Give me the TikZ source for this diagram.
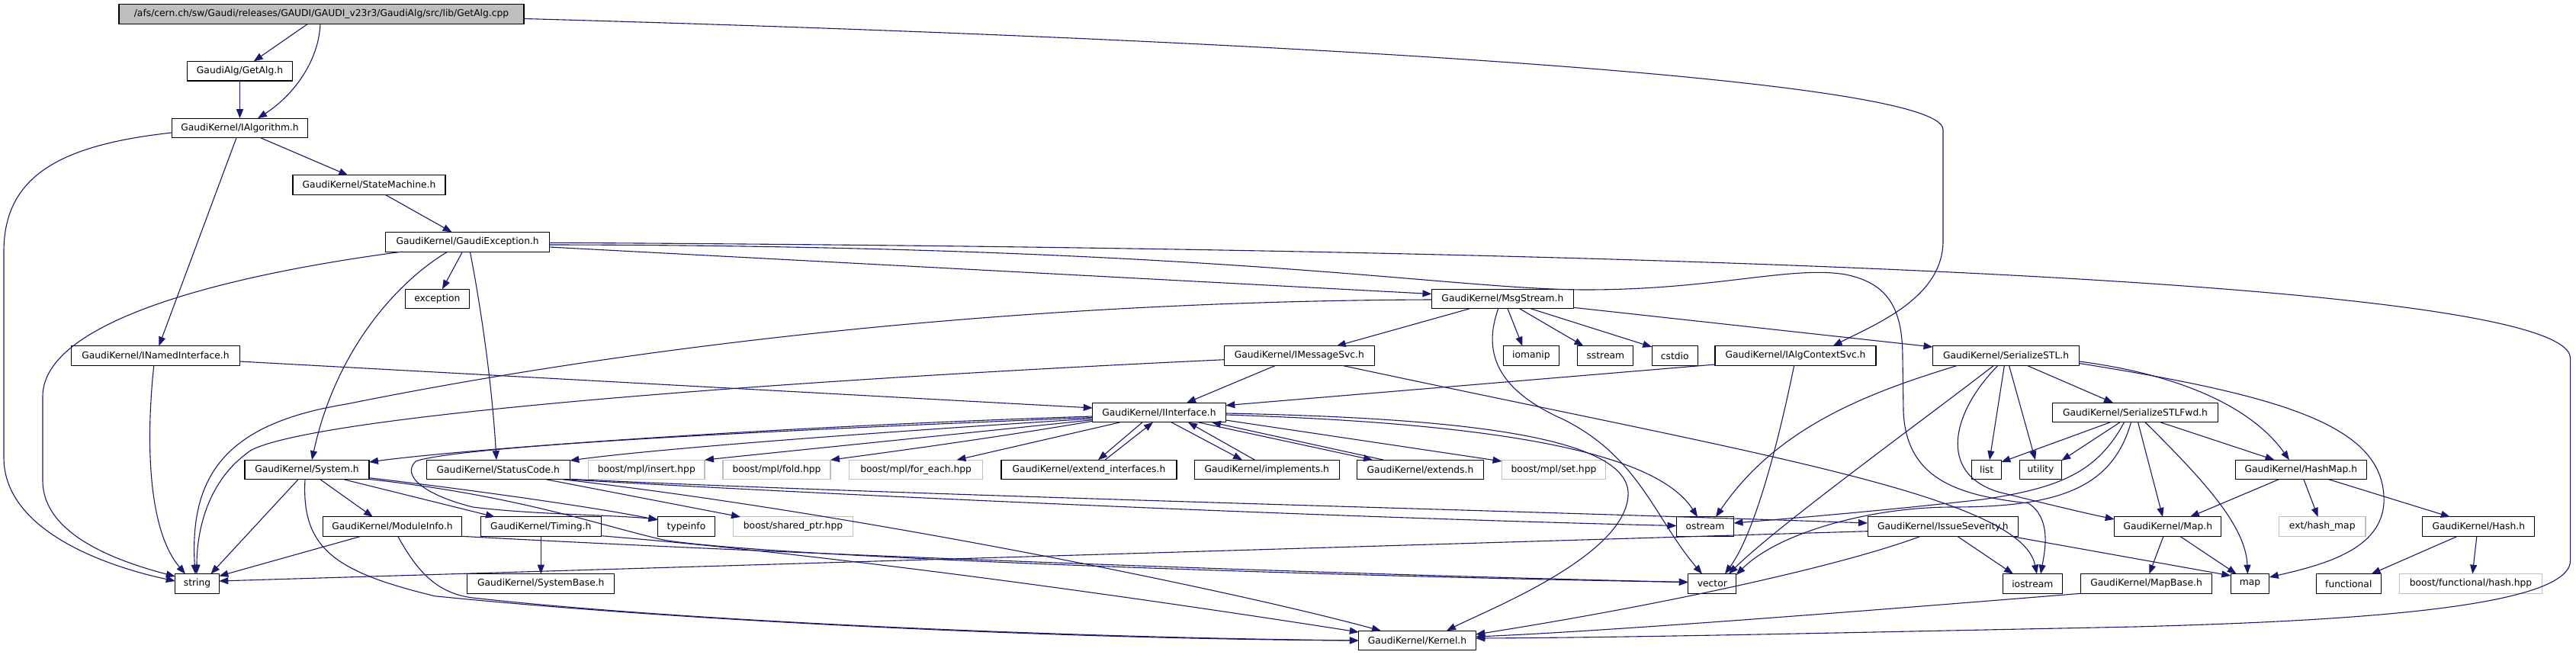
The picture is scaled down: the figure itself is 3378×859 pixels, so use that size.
\documentclass[tikz,border=0pt]{standalone}
\usepackage{fontspec}
\setmainfont{DejaVu Sans}
\usetikzlibrary{arrows.meta}
\definecolor{edgeblue}{HTML}{191970}
\definecolor{greyline}{HTML}{BFBFBF}
\begin{document}
\begin{tikzpicture}[x=1pt,y=-1pt,
  nb/.style={draw=black, line width=1.1pt, minimum height=25.6pt, inner sep=0pt, font=\fontsize{12.3}{14}\selectfont, text=black},
  ng/.style={nb, draw=greyline},
  nr/.style={nb, fill=greyline},
  e/.style={draw=edgeblue, line width=1.1pt, -{Triangle[length=12pt,width=9pt]}}]
\fill[white] (0,0) rectangle (3378,859);
\useasboundingbox (0,0) rectangle (3378,859);
% nodes
\node[nr, minimum width=531pt] (root) at (421.5,18.5) {/afs/cern.ch/sw/Gaudi/releases/GAUDI/GAUDI\_v23r3/GaudiAlg/src/lib/GetAlg.cpp};
\node[nb, minimum width=137.5pt] (getalg) at (314.5,93.2) {GaudiAlg/GetAlg.h};
\node[nb, minimum width=178pt] (ialg) at (314.5,168) {GaudiKernel/IAlgorithm.h};
\node[nb, minimum width=200pt] (statem) at (484,242.7) {GaudiKernel/StateMachine.h};
\node[nb, minimum width=214.6pt] (gexc) at (613.1,317.3) {GaudiKernel/GaudiException.h};
\node[nb, minimum width=84pt] (exc) at (573.3,392) {exception};
\node[nb, minimum width=185.8pt] (msg) at (1970.4,392) {GaudiKernel/MsgStream.h};
\node[nb, minimum width=220.4pt] (inamed) at (204,466.5) {GaudiKernel/INamedInterface.h};
\node[nb, minimum width=197.5pt] (imsg) at (1703.8,466.5) {GaudiKernel/IMessageSvc.h};
\node[nb, minimum width=73pt] (iomanip) at (2007.9,466.5) {iomanip};
\node[nb, minimum width=73pt] (sstream) at (2105.3,466.5) {sstream};
\node[nb, minimum width=60pt] (cstdio) at (2196.2,466.5) {cstdio};
\node[nb, minimum width=211pt] (ialgctx) at (2354.5,466.5) {GaudiKernel/IAlgContextSvc.h};
\node[nb, minimum width=192pt] (sstl) at (2630.5,466.5) {GaudiKernel/SerializeSTL.h};
\node[nb, minimum width=174.6pt] (iint) at (1520,541) {GaudiKernel/IInterface.h};
\node[nb, minimum width=217.4pt] (sstlfwd) at (2800,541) {GaudiKernel/SerializeSTLFwd.h};
\node[nb, minimum width=163pt] (system) at (402.5,616) {GaudiKernel/System.h};
\node[nb, minimum width=188pt] (status) at (653.3,616) {GaudiKernel/StatusCode.h};
\node[ng, minimum width=152.4pt] (insert) at (847.8,616) {boost/mpl/insert.hpp};
\node[ng, minimum width=141pt] (fold) at (1018.5,616) {boost/mpl/fold.hpp};
\node[ng, minimum width=175.2pt] (foreach) at (1201.1,616) {boost/mpl/for\_each.hpp};
\node[nb, minimum width=230pt] (extint) at (1428,616) {GaudiKernel/extend\_interfaces.h};
\node[nb, minimum width=189.5pt] (impl) at (1661.3,616) {GaudiKernel/implements.h};
\node[nb, minimum width=166pt] (extends) at (1862.5,616) {GaudiKernel/extends.h};
\node[ng, minimum width=136pt] (mplset) at (2037.5,616) {boost/mpl/set.hpp};
\node[nb, minimum width=38.6pt] (list) at (2605.1,616) {list};
\node[nb, minimum width=54.6pt] (utility) at (2676,616) {utility};
\node[nb, minimum width=172.2pt] (hashmap) at (3017.3,616) {GaudiKernel/HashMap.h};
\node[nb, minimum width=182.5pt] (modinfo) at (514.5,690.7) {GaudiKernel/ModuleInfo.h};
\node[nb, minimum width=157.5pt] (timing) at (709.3,690.7) {GaudiKernel/Timing.h};
\node[nb, minimum width=75pt] (typeinfo) at (900,690.7) {typeinfo};
\node[ng, minimum width=156.4pt] (sharedptr) at (1040,690.7) {boost/shared\_ptr.hpp};
\node[nb, minimum width=75pt] (ostream) at (2236,690.7) {ostream};
\node[nb, minimum width=197.5pt] (issue) at (2547.8,690.7) {GaudiKernel/IssueSeverity.h};
\node[nb, minimum width=140pt] (mapH) at (2842.8,690.7) {GaudiKernel/Map.h};
\node[ng, minimum width=113.5pt] (exthash) at (3045.2,690.7) {ext/hash\_map};
\node[nb, minimum width=147pt] (hash) at (3250.3,690.7) {GaudiKernel/Hash.h};
\node[nb, minimum width=57.5pt] (string) at (258.6,765.5) {string};
\node[nb, minimum width=193pt] (sysbase) at (709.3,765.5) {GaudiKernel/SystemBase.h};
\node[nb, minimum width=63pt] (vector) at (2245.3,765.5) {vector};
\node[nb, minimum width=77.5pt] (iostream) at (2665.3,765.5) {iostream};
\node[nb, minimum width=172pt] (mapbase) at (2814.5,765.5) {GaudiKernel/MapBase.h};
\node[nb, minimum width=50.5pt] (map) at (2950.6,765.5) {map};
\node[nb, minimum width=85.5pt] (functional) at (3079.8,765.5) {functional};
\node[ng, minimum width=187pt] (bfhash) at (3240,765.5) {boost/functional/hash.hpp};
\node[nb, minimum width=153.5pt] (kernel) at (1858.5,840) {GaudiKernel/Kernel.h};
% edges
\draw[e] ([shift={(-17.9,12.8)}]root.center) -- ([shift={(18.2,-12.8)}]getalg.center);
\draw[e] ([shift={(-1.5,12.8)}]root.center) .. controls (418,80) and (385,125) .. ([shift={(23.5,-12.8)}]ialg.center);
\draw[e] ([shift={(0,12.8)}]getalg.center) -- ([shift={(0,-12.8)}]ialg.center);
\draw[e] ([shift={(265.5,6)}]root.center) .. controls (1600,50) and (2548,100) .. (2548,170) -- (2548,316) .. controls (2548,390) and (2460,425) .. ([shift={(49.1,-12.8)}]ialgctx.center);
\draw[e] ([shift={(-89,6)}]ialg.center) .. controls (80,190) and (5,230) .. (5,330) -- (5,600) .. controls (5,700) and (150,745) .. ([shift={(-28.8,-3.5)}]string.center);
\draw[e] ([shift={(-4.5,12.8)}]ialg.center) -- ([shift={(4.4,-12.8)}]inamed.center);
\draw[e] ([shift={(27.3,12.8)}]ialg.center) -- ([shift={(-27.6,-12.8)}]statem.center);
\draw[e] ([shift={(21.5,12.8)}]statem.center) -- ([shift={(-20.4,-12.8)}]gexc.center);
\draw[e] ([shift={(-85.8,12.8)}]gexc.center) .. controls (300,360) and (56,420) .. (56,520) -- (56,630) .. controls (56,700) and (150,735) .. ([shift={(-28.8,-9.5)}]string.center);
\draw[e] ([shift={(-6.6,12.8)}]gexc.center) -- ([shift={(6.7,-12.8)}]exc.center);
\draw[e] ([shift={(-26.1,12.8)}]gexc.center) .. controls (520,370) and (440,460) .. ([shift={(6.5,-12.8)}]system.center);
\draw[e] ([shift={(3.3,12.8)}]gexc.center) .. controls (630,400) and (645,500) .. ([shift={(-2.3,-12.8)}]status.center);
\draw[e] ([shift={(107.3,6.7)}]gexc.center) -- ([shift={(-92.9,-6.5)}]msg.center);
\draw[e] ([shift={(107.3,1)}]gexc.center) .. controls (2000,325) and (3370.6,360) .. (3370.6,470) -- (3370.6,735) .. controls (3370.6,800) and (3050,815) .. (2800,822) .. controls (2400,830) and (2150,836) .. ([shift={(76.8,-3)}]kernel.center);
\draw[e] ([shift={(107.3,3.7)}]gexc.center) .. controls (1600,322) and (1900,380) .. (2080,380) .. controls (2250,380) and (2350,348) .. (2420,360) .. controls (2480,372) and (2495,410) .. (2495,470) -- (2496,540) .. controls (2500,630) and (2570,650) .. (2660,660) .. controls (2690,680) and (2682,720) .. ([shift={(10.7,-12.8)}]iostream.center);
\draw[e] ([shift={(-92.9,1)}]msg.center) .. controls (1300,395) and (800,460) .. (454,530) .. controls (300,555) and (248,620) .. ([shift={(-2.6,-12.8)}]string.center);
\draw[e] ([shift={(-98.3,5.2)}]imsg.center) .. controls (1000,500) and (420,545) .. (330,590) .. controls (270,630) and (258,700) .. ([shift={(-0.6,-12.8)}]string.center);
\draw[e] ([shift={(-2.2,12.8)}]inamed.center) .. controls (193,560) and (190,690) .. ([shift={(-15.6,-12.8)}]string.center);
\draw[e] ([shift={(110.2,7.5)}]inamed.center) -- ([shift={(-87.3,-6)}]iint.center);
\draw[e] ([shift={(-11.5,12.8)}]system.center) -- ([shift={(17.8,-12.8)}]string.center);
\draw[e] ([shift={(17.5,12.8)}]system.center) -- ([shift={(-25.5,-12.8)}]modinfo.center);
\draw[e] ([shift={(48.5,12.8)}]system.center) -- ([shift={(-60.3,-12.8)}]timing.center);
\draw[e] ([shift={(81.5,10.7)}]system.center) .. controls (600,640) and (780,665) .. ([shift={(-37.5,-8.7)}]typeinfo.center);
\draw[e] ([shift={(81.5,12.5)}]system.center) .. controls (680,650) and (790,690) .. (870,708) .. controls (1000,730) and (1700,755) .. ([shift={(-31.5,-2)}]vector.center);
\draw[e] ([shift={(-2.5,12.8)}]system.center) .. controls (395,720) and (440,750) .. (570,781.7) .. controls (900,815) and (1400,838) .. ([shift={(-76.7,0)}]kernel.center);
\draw[e] ([shift={(-41.8,12.8)}]modinfo.center) -- ([shift={(28.7,-10)}]string.center);
\draw[e] ([shift={(7.3,12.8)}]modinfo.center) .. controls (545,745) and (570,778) .. (620,784) .. controls (900,815) and (1400,836) .. ([shift={(-76.7,0)}]kernel.center);
\draw[e] ([shift={(91.3,12.6)}]modinfo.center) .. controls (1000,725) and (1700,752) .. ([shift={(-31.5,-2)}]vector.center);
\draw[e] ([shift={(0,12.8)}]timing.center) -- ([shift={(0,-12.8)}]sysbase.center);
\draw[e] ([shift={(78.7,12)}]timing.center) .. controls (1100,728) and (1500,785) .. ([shift={(-76.7,-11)}]kernel.center);
\draw[e] ([shift={(94,12.3)}]status.center) .. controls (1200,650) and (2000,670) .. ([shift={(-98.8,-4.7)}]issue.center);
\draw[e] ([shift={(90,12.8)}]status.center) .. controls (1200,655) and (1800,680) .. ([shift={(-37.5,-1.2)}]ostream.center);
\draw[e] ([shift={(63.1,12.8)}]status.center) -- ([shift={(-69,-12.8)}]sharedptr.center);
\draw[e] ([shift={(84.7,12.8)}]status.center) .. controls (1100,670) and (1600,770) .. ([shift={(-47.5,-12.8)}]kernel.center);
\draw[e] ([shift={(-87.3,5)}]iint.center) .. controls (1000,560) and (600,590) .. ([shift={(81.5,-10)}]system.center);
\draw[e] ([shift={(-87.3,6.5)}]iint.center) .. controls (1000,565) and (600,585) .. (545,605) .. controls (525,625) and (560,650) .. (620,665) .. controls (700,675) and (800,675) .. ([shift={(-37.5,-9.7)}]typeinfo.center);
\draw[e] ([shift={(-87.3,8)}]iint.center) .. controls (1100,570) and (850,590) .. ([shift={(94,-12)}]status.center);
\draw[e] ([shift={(-87.3,9.7)}]iint.center) .. controls (1200,575) and (1000,595) .. ([shift={(76.2,-12.8)}]insert.center);
\draw[e] ([shift={(-87.3,11.3)}]iint.center) .. controls (1300,575) and (1150,595) .. ([shift={(70.5,-12.8)}]fold.center);
\draw[e] ([shift={(-51,12.8)}]iint.center) -- ([shift={(53.4,-12.8)}]foreach.center);
\draw[e] ([shift={(-22,12.8)}]iint.center) -- ([shift={(12,-12.8)}]extint.center);
\draw[e] ([shift={(21,-12.8)}]extint.center) -- ([shift={(-8,12.8)}]iint.center);
\draw[e] ([shift={(16,12.8)}]iint.center) -- ([shift={(-32.3,-12.8)}]impl.center);
\draw[e] ([shift={(-15.8,-12.8)}]impl.center) -- ([shift={(38,12.8)}]iint.center);
\draw[e] ([shift={(51,12.8)}]iint.center) -- ([shift={(-62.5,-12.8)}]extends.center);
\draw[e] ([shift={(-48,-12.8)}]extends.center) -- ([shift={(69,12.8)}]iint.center);
\draw[e] ([shift={(87.3,10)}]iint.center) -- ([shift={(-68,-11)}]mplset.center);
\draw[e] ([shift={(87.3,3)}]iint.center) .. controls (1950,555) and (2170,590) .. ([shift={(-10,-12.8)}]ostream.center);
\draw[e] ([shift={(87.3,1)}]iint.center) .. controls (1900,548) and (2140,570) .. (2135,650) .. controls (2130,730) and (1950,800) .. ([shift={(38.5,-12.8)}]kernel.center);
\draw[e] ([shift={(-31.1,12.8)}]imsg.center) -- ([shift={(36,-12.8)}]iint.center);
\draw[e] ([shift={(-105.5,11.5)}]ialgctx.center) -- ([shift={(87.3,-9.3)}]iint.center);
\draw[e] ([shift={(-1.8,12.8)}]ialgctx.center) .. controls (2330,590) and (2300,700) .. ([shift={(16.7,-12.8)}]vector.center);
\draw[e] ([shift={(-43.1,12.8)}]msg.center) -- ([shift={(48.9,-12.8)}]imsg.center);
\draw[e] ([shift={(6.6,12.8)}]msg.center) -- ([shift={(-11.5,-12.8)}]iomanip.center);
\draw[e] ([shift={(22.3,12.8)}]msg.center) -- ([shift={(-28.9,-12.8)}]sstream.center);
\draw[e] ([shift={(36.9,12.8)}]msg.center) -- ([shift={(-30,-11.5)}]cstdio.center);
\draw[e] ([shift={(-5.7,12.8)}]msg.center) .. controls (1945,460) and (1960,510) .. (2050,550) .. controls (2150,600) and (2170,680) .. ([shift={(-13.3,-12.8)}]vector.center);
\draw[e] ([shift={(92.9,11.3)}]msg.center) -- ([shift={(-96,-11.5)}]sstl.center);
\draw[e] ([shift={(-63.5,12.8)}]sstl.center) .. controls (2450,515) and (2330,560) .. ([shift={(14,-12.8)}]ostream.center);
\draw[e] ([shift={(-16,12.8)}]sstl.center) .. controls (2530,545) and (2330,690) .. ([shift={(21.7,-12.8)}]vector.center);
\draw[e] ([shift={(-10.5,12.8)}]sstl.center) .. controls (2560,540) and (2540,620) .. (2620,645) .. controls (2680,660) and (2730,672) .. ([shift={(-70.1,-9.7)}]mapH.center);
\draw[e] ([shift={(-2.1,12.8)}]sstl.center) -- ([shift={(3.9,-12.8)}]list.center);
\draw[e] ([shift={(4,12.8)}]sstl.center) -- ([shift={(-7,-12.8)}]utility.center);
\draw[e] ([shift={(27.5,12.8)}]sstl.center) -- ([shift={(-29,-12.8)}]sstlfwd.center);
\draw[e] ([shift={(96,7.5)}]sstl.center) .. controls (2850,490) and (2950,530) .. ([shift={(-15.3,-12.8)}]hashmap.center);
\draw[e] ([shift={(96,10)}]sstl.center) .. controls (3000,520) and (3130,560) .. (3126,660) .. controls (3122,720) and (3050,740) .. ([shift={(25.2,-8.5)}]map.center);
\draw[e] ([shift={(-32.7,12.8)}]sstlfwd.center) -- ([shift={(19.3,-10)}]list.center);
\draw[e] ([shift={(-20,12.8)}]sstlfwd.center) -- ([shift={(27.3,-12)}]utility.center);
\draw[e] ([shift={(-14.5,12.8)}]sstlfwd.center) .. controls (2750,620) and (2700,640) .. (2600,655) .. controls (2450,672) and (2320,682) .. ([shift={(37.5,-4.7)}]ostream.center);
\draw[e] ([shift={(-5.5,12.8)}]sstlfwd.center) .. controls (2770,640) and (2700,665) .. (2560,665) .. controls (2450,665) and (2330,700) .. ([shift={(31.4,-11.5)}]vector.center);
\draw[e] ([shift={(3.6,12.8)}]sstlfwd.center) -- ([shift={(-6.8,-12.8)}]mapH.center);
\draw[e] ([shift={(13,12.8)}]sstlfwd.center) .. controls (2890,630) and (2945,690) .. ([shift={(-3.2,-12.8)}]map.center);
\draw[e] ([shift={(33,12.8)}]sstlfwd.center) -- ([shift={(-34.8,-12.8)}]hashmap.center);
\draw[e] ([shift={(-29.3,12.8)}]hashmap.center) -- ([shift={(29.1,-12.8)}]mapH.center);
\draw[e] ([shift={(3.7,12.8)}]hashmap.center) -- ([shift={(-5.6,-12.8)}]exthash.center);
\draw[e] ([shift={(36.7,12.8)}]hashmap.center) -- ([shift={(-37.5,-12.8)}]hash.center);
\draw[e] ([shift={(-5.9,12.8)}]mapH.center) -- ([shift={(3.9,-12.8)}]mapbase.center);
\draw[e] ([shift={(16.2,12.8)}]mapH.center) -- ([shift={(-17.9,-12.8)}]map.center);
\draw[e] ([shift={(-28.3,12.8)}]hash.center) -- ([shift={(29.8,-12.8)}]functional.center);
\draw[e] ([shift={(-2.5,12.8)}]hash.center) -- ([shift={(2.3,-12.8)}]bfhash.center);
\draw[e] ([shift={(-86.1,12.8)}]mapbase.center) .. controls (2400,805) and (2100,828) .. ([shift={(76.8,-5)}]kernel.center);
\draw[e] ([shift={(-29.8,12.8)}]issue.center) .. controls (2420,740) and (2200,790) .. ([shift={(76.8,-8)}]kernel.center);
\draw[e] ([shift={(19.2,12.8)}]issue.center) -- ([shift={(-25.3,-12.8)}]iostream.center);
\draw[e] ([shift={(90.2,12.8)}]issue.center) -- ([shift={(-25.3,-10.5)}]map.center);
\draw[e] ([shift={(-98.8,6)}]issue.center) -- ([shift={(28.7,-3.5)}]string.center);
\draw[e] ([shift={(56.2,12.8)}]imsg.center) .. controls (2300,595) and (2650,650) .. ([shift={(5.7,-12.8)}]iostream.center);
\end{tikzpicture}
\end{document}
